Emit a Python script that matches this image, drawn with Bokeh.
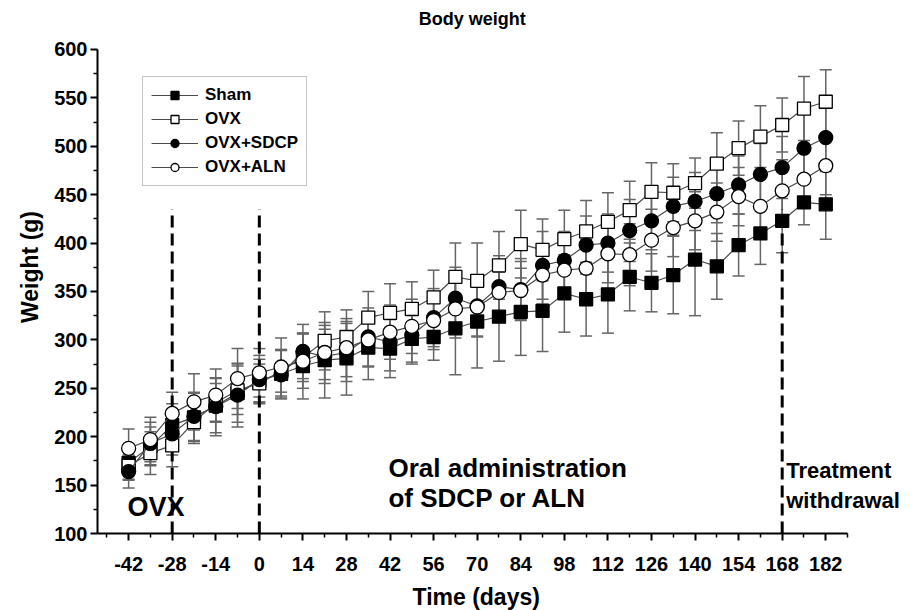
from bokeh.plotting import figure
from bokeh.models import (ColumnDataSource, Whisker, TeeHead, FixedTicker, Legend,
                          LegendItem, Label, Range1d, Title)
from bokeh.embed import file_html
from bokeh.resources import INLINE

# ---------------- data ----------------
days = [-42, -35, -28, -21, -14, -7, 0, 7, 14, 21, 28, 35, 42, 49, 56, 63, 70,
        77, 84, 91, 98, 105, 112, 119, 126, 133, 140, 147, 154, 161, 168, 175, 182]

sham = [173, 190, 212, 220, 232, 245, 258, 265, 273, 279, 281, 292, 291, 301, 303, 312, 319,
        324, 329, 330, 348, 342, 347, 365, 359, 367, 383, 376, 398, 410, 423, 442, 440]
ovx = [170, 183, 191, 215, 235, 248, 255, 268, 282, 299, 303, 323, 328, 332, 344, 365, 361,
       377, 399, 393, 404, 412, 422, 434, 453, 452, 462, 482, 498, 510, 522, 539, 546]
sdcp = [164, 193, 203, 221, 231, 243, 259, 264, 288, 283, 287, 303, 298, 305, 323, 343, 335,
        355, 352, 377, 382, 398, 400, 413, 423, 438, 443, 451, 460, 471, 478, 498, 509]
aln = [188, 197, 224, 236, 243, 260, 266, 272, 278, 287, 292, 300, 308, 314, 320, 332, 334,
       349, 351, 367, 372, 374, 389, 388, 403, 416, 423, 432, 448, 438, 454, 466, 480]

sham_sd = [18, 20, 22, 25, 28, 30, 22, 25, 34, 39, 38, 33, 30, 24, 24, 48, 48,
           46, 45, 42, 40, 38, 40, 35, 30, 40, 58, 34, 32, 32, 33, 23, 36]
ovx_sd = [14, 22, 22, 22, 20, 25, 20, 22, 25, 30, 28, 27, 30, 28, 28, 35, 39,
          35, 35, 32, 30, 32, 30, 30, 30, 30, 26, 32, 28, 32, 28, 33, 33]
sdcp_sd = [17, 22, 22, 25, 30, 33, 25, 25, 28, 28, 30, 30, 30, 30, 30, 32, 32,
           32, 32, 35, 30, 30, 30, 32, 30, 30, 30, 30, 30, 32, 32, 35, 35]
aln_sd = [20, 23, 22, 29, 27, 31, 25, 30, 28, 28, 30, 28, 28, 28, 30, 30, 30,
          30, 30, 30, 30, 30, 30, 32, 32, 30, 30, 30, 30, 30, 32, 30, 30]

series_names = ["Sham", "OVX", "OVX+SDCP", "OVX+ALN"]

x_ticks = [-42, -28, -14, 0, 14, 28, 42, 56, 70, 84, 98, 112, 126, 140, 154, 168, 182]
x_tick_labels = ["-42", "-28", "-14", "0", "14", "28", "42", "56", "70", "84", "98",
                 "112", "126", "140", "154", "168", "182"]
x_minor = [-49, -35, -21, -7, 7, 21, 35, 49, 63, 77, 91, 105, 119, 133, 147, 161, 175, 189]
y_ticks = [100, 150, 200, 250, 300, 350, 400, 450, 500, 550, 600]
y_minor = [125, 175, 225, 275, 325, 375, 425, 475, 525, 575]

phase_days = [-28, 0, 168]
phase_bottom = [100, 100, 100]
phase_top = [435, 435, 435]

FONT = "Liberation Sans"

# ---------------- figure ----------------
# frame extends above the y axis (bounded at 600) so the title can sit inside it
p = figure(frame_width=807, frame_height=533, output_backend="svg", toolbar_location=None,
           x_range=Range1d(-52, 207.3), y_range=Range1d(100, 650.6),
           min_border_left=97, min_border_right=0, min_border_top=0,
           min_border_bottom=0)
p.outline_line_color = None
p.grid.visible = False
p.background_fill_color = "white"
p.border_fill_color = "white"

# phase dashed lines
p.segment(x0=phase_days, x1=phase_days, y0=phase_bottom, y1=phase_top,
          line_color="black", line_width=3, line_dash="12 6")

# series
specs = [
    (sham, sham_sd, "square", "black"),
    (ovx, ovx_sd, "square", "white"),
    (sdcp, sdcp_sd, "circle", "black"),
    (aln, aln_sd, "circle", "white"),
]

items = []
for name, (vals, sds, marker, fill) in zip(series_names, specs):
    src = ColumnDataSource(dict(
        x=days, y=vals,
        upper=[v + s for v, s in zip(vals, sds)],
        lower=[v - s for v, s in zip(vals, sds)],
    ))
    w = Whisker(source=src, base="x", upper="upper", lower="lower",
                line_color="#666666", line_width=1.5, level="underlay",
                upper_head=TeeHead(size=12, line_color="#666666", line_width=1.5),
                lower_head=TeeHead(size=12, line_color="#666666", line_width=1.5))
    p.add_layout(w)
    lr = p.line("x", "y", source=src, line_color="#4a4a4a", line_width=1.2)
    sr = p.scatter("x", "y", source=src, marker=marker,
                   size=13 if marker == "square" else 14,
                   fill_color=fill, line_color="black", line_width=1.3)
    items.append(LegendItem(label=name, renderers=[lr, sr]))

legend = Legend(items=items, location=(45, 347))
legend.border_line_color = "#8a8a8a"
legend.border_line_width = 1.5
legend.label_text_font = FONT
legend.label_text_font_style = "bold"
legend.label_text_font_size = "17px"
legend.label_text_color = "black"
legend.glyph_width = 47
legend.glyph_height = 20
legend.label_height = 20
legend.spacing = 4
legend.padding = 8
legend.margin = 0
legend.label_standoff = 7
p.add_layout(legend)

# axes
p.xaxis.ticker = FixedTicker(ticks=x_ticks, minor_ticks=x_minor)
p.xaxis.major_label_overrides = {t: s for t, s in zip(x_ticks, x_tick_labels)}
p.xaxis.bounds = (-52, 189)
p.yaxis.ticker = FixedTicker(ticks=y_ticks, minor_ticks=y_minor)
p.yaxis.bounds = (100, 600)
p.yaxis.axis_label = "Weight (g)"
for ax in (p.xaxis[0], p.yaxis[0]):
    ax.axis_line_width = 2
    ax.axis_line_color = "black"
    ax.major_tick_line_width = 2
    ax.minor_tick_line_width = 1.5
    ax.major_tick_in = 0
    ax.major_tick_out = 7
    ax.minor_tick_in = 0
    ax.minor_tick_out = 4
    ax.major_label_text_font = FONT
    ax.major_label_text_font_style = "bold"
    ax.major_label_text_font_size = "20px"
    ax.major_label_text_color = "black"
    ax.axis_label_text_font = FONT
    ax.axis_label_text_font_style = "bold"
    ax.axis_label_text_font_size = "23px"
    ax.axis_label_text_color = "black"
p.xaxis.major_label_standoff = 16
p.yaxis.major_label_standoff = 3
p.yaxis.axis_label_standoff = 8

p.add_layout(Title(text="Time (days)", align="left", offset=315, standoff=16,
                   text_font=FONT, text_font_style="bold", text_font_size="23px",
                   text_color="black"), "below")

# chart title inside the (extended) frame
p.add_layout(Label(x=68.4, y=632, text="Body weight", text_font=FONT,
                   text_font_style="bold", text_font_size="18px",
                   text_baseline="middle", text_align="center", text_color="black"))

# annotations
ann = [
    (-42.4, 127, "OVX", "27px"),
    (41.5, 168, "Oral administration", "26px"),
    (41.5, 137, "of SDCP or ALN", "26px"),
    (169.3, 165, "Treatment", "22px"),
    (169.3, 134, "withdrawal", "22px"),
]
for ax_, ay_, t, fs in ann:
    p.add_layout(Label(x=ax_, y=ay_, text=t, text_font=FONT, text_font_style="bold",
                       text_font_size=fs, text_baseline="middle", text_align="left",
                       text_color="black"))

open("out.html", "w").write(file_html(p, INLINE))
